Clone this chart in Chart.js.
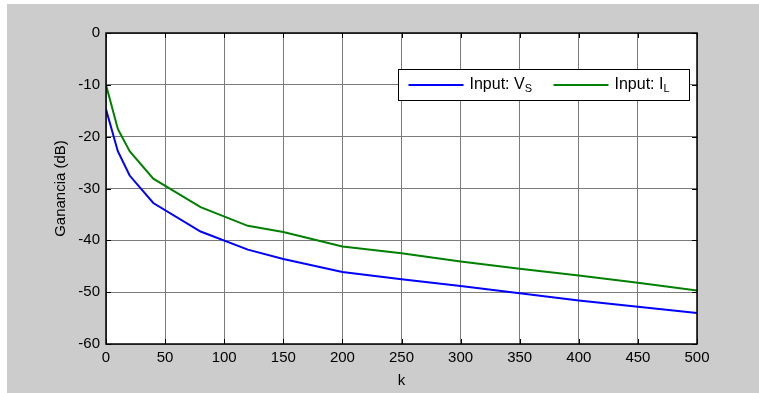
<!DOCTYPE html>
<html>
<head>
<meta charset="utf-8">
<script src="https://cdn.jsdelivr.net/npm/chart.js@4"></script>
<style>
  html, body { margin: 0; padding: 0; background: #ffffff; }
  #wrap { width: 759px; height: 393px; position: relative; }
</style>
</head>
<body>
<div id="wrap"><canvas id="gainChart" width="759" height="393"></canvas></div>
<script>
// Gain vs k for the two inputs
const kValues = [0, 10, 20, 40, 80, 120, 150, 200, 250, 300, 350, 400, 450, 500];
const gainVs = [-14.7, -22.8, -27.5, -32.8, -38.3, -41.8, -43.6, -46.1, -47.5, -48.8, -50.2, -51.6, -52.8, -54.0];
const gainIl = [-10, -18.5, -22.8, -28.1, -33.6, -37.2, -38.4, -41.2, -42.5, -44.1, -45.5, -46.8, -48.2, -49.7];
const xTicks = [0, 50, 100, 150, 200, 250, 300, 350, 400, 450, 500];
const yTicks = [0, -10, -20, -30, -40, -50, -60];
const legendItems = [
  { base: 'Input: V', sub: 'S', color: '#0000ff' },
  { base: 'Input: I', sub: 'L', color: '#008000' },
];

const FONT = 'Arial, "Liberation Sans", Helvetica, sans-serif';

// figure background, white axes area
const backdrop = {
  id: 'backdrop',
  beforeDraw(chart) {
    const { ctx, chartArea: a } = chart;
    ctx.save();
    ctx.fillStyle = '#ffffff';
    ctx.fillRect(0, 0, chart.width, chart.height);
    ctx.fillStyle = '#cccccc';
    ctx.fillRect(7, 4, chart.width - 7, chart.height - 4);
    ctx.fillStyle = '#ffffff';
    ctx.fillRect(a.left, a.top, a.right - a.left, a.bottom - a.top);
    ctx.restore();
  },
};

// box outline with inward tick marks on all four sides
const axesBox = {
  id: 'axesBox',
  afterDatasetsDraw(chart) {
    const { ctx, chartArea: a, scales } = chart;
    ctx.save();
    ctx.strokeStyle = '#000000';
    ctx.lineWidth = 1;
    ctx.beginPath();
    xTicks.forEach((v) => {
      const x = Math.round(scales.x.getPixelForValue(v)) + 0.5;
      ctx.moveTo(x, a.bottom); ctx.lineTo(x, a.bottom - 5);
      ctx.moveTo(x, a.top); ctx.lineTo(x, a.top + 5);
    });
    yTicks.forEach((v) => {
      const y = Math.round(scales.y.getPixelForValue(v)) + 0.5;
      ctx.moveTo(a.left, y); ctx.lineTo(a.left + 5, y);
      ctx.moveTo(a.right, y); ctx.lineTo(a.right - 5, y);
    });
    ctx.stroke();
    ctx.lineWidth = 1.5;
    ctx.strokeRect(a.left, a.top, a.right - a.left, a.bottom - a.top);
    ctx.restore();
  },
};

// legend with subscripted labels
const subLegend = {
  id: 'subLegend',
  afterDraw(chart) {
    const { ctx } = chart;
    const box = { x: 398.5, y: 69.5, w: 291, h: 31 };
    const lineY = box.y + box.h / 2;
    ctx.save();
    ctx.fillStyle = '#ffffff';
    ctx.fillRect(box.x, box.y, box.w, box.h);
    ctx.strokeStyle = '#000000';
    ctx.lineWidth = 1;
    ctx.strokeRect(box.x, box.y, box.w, box.h);
    let x = box.x + 10;
    legendItems.forEach((item) => {
      ctx.strokeStyle = item.color;
      ctx.lineWidth = 2;
      ctx.beginPath();
      ctx.moveTo(x, lineY);
      ctx.lineTo(x + 55, lineY);
      ctx.stroke();
      x += 61;
      ctx.fillStyle = '#000000';
      ctx.textBaseline = 'middle';
      ctx.font = '16px ' + FONT;
      ctx.fillText(item.base, x, lineY);
      const w = ctx.measureText(item.base).width;
      ctx.font = '11px ' + FONT;
      ctx.fillText(item.sub, x + w, lineY + 4);
      x += 84;
    });
    ctx.restore();
  },
};

new Chart(document.getElementById('gainChart'), {
  type: 'line',
  data: {
    datasets: [
      {
        label: 'Input: Vs',
        data: kValues.map((k, i) => ({ x: k, y: gainVs[i] })),
        borderColor: '#0000ff',
        backgroundColor: '#0000ff',
        borderWidth: 2,
      },
      {
        label: 'Input: IL',
        data: kValues.map((k, i) => ({ x: k, y: gainIl[i] })),
        borderColor: '#008000',
        backgroundColor: '#008000',
        borderWidth: 2,
      },
    ],
  },
  options: {
    responsive: false,
    animation: false,
    layout: { padding: { top: 33, right: 62, bottom: 0, left: 0 } },
    elements: { point: { radius: 0 }, line: { tension: 0, fill: false } },
    plugins: { legend: { display: false }, tooltip: { enabled: false } },
    scales: {
      x: {
        type: 'linear',
        min: 0,
        max: 500,
        afterBuildTicks: (s) => { s.ticks = xTicks.map((v) => ({ value: v })); },
        afterFit: (s) => { s.height = 49; },
        ticks: { color: '#000000', font: { family: FONT, size: 15 }, padding: 5, maxRotation: 0 },
        grid: { color: '#7a7a7a', lineWidth: 1, drawTicks: false },
        border: { display: false },
        title: { display: true, text: 'k', color: '#000000', font: { family: FONT, size: 15 }, padding: { top: 0, bottom: 3 } },
      },
      y: {
        type: 'linear',
        min: -60,
        max: 0,
        afterBuildTicks: (s) => { s.ticks = yTicks.map((v) => ({ value: v })); },
        afterFit: (s) => { s.width = 106; },
        ticks: { color: '#000000', font: { family: FONT, size: 15 }, padding: 6 },
        grid: { color: '#7a7a7a', lineWidth: 1, drawTicks: false },
        border: { display: false },
        title: { display: true, text: 'Ganancia (dB)', color: '#000000', font: { family: FONT, size: 15 }, padding: { top: 52, bottom: 0 } },
      },
    },
  },
  plugins: [backdrop, axesBox, subLegend],
});
</script>
</body>
</html>
